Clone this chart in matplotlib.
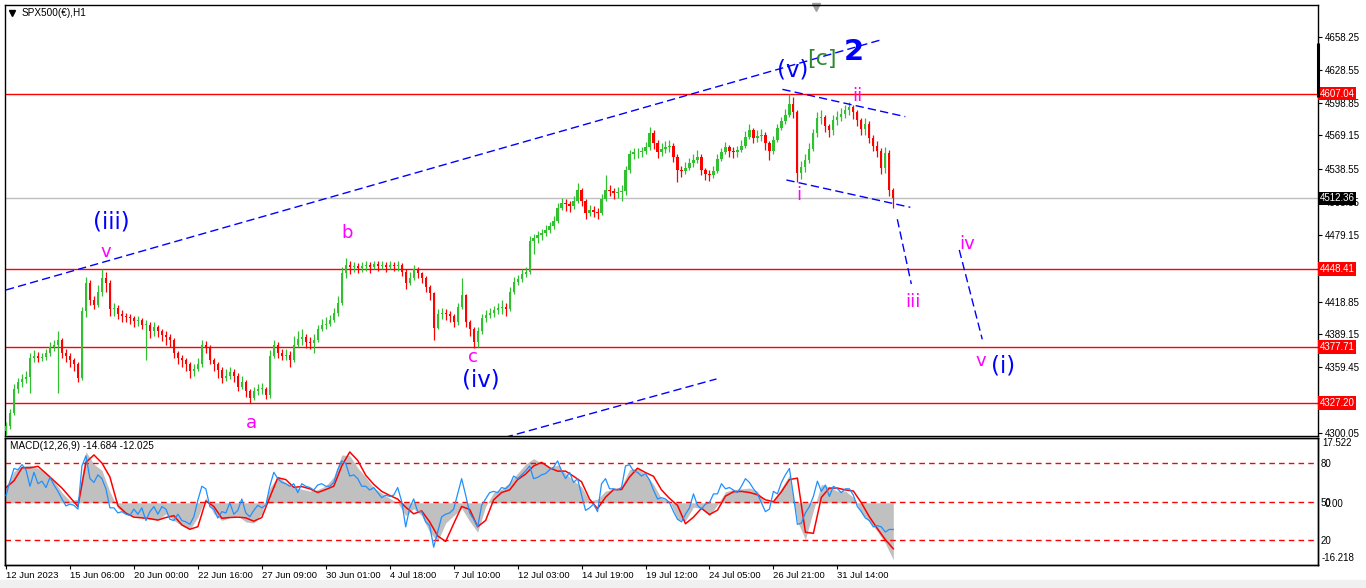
import numpy as np
import matplotlib.pyplot as plt
from matplotlib import transforms

plt.rcParams['font.family'] = ['Liberation Sans', 'DejaVu Sans']

# SPX500(€) H1 - una vela cada 4 horas
open0 = 4302.0
close = [4306, 4318, 4340, 4346, 4349, 4351, 4368, 4370, 4368, 4369,
         4372, 4378, 4380, 4384, 4372, 4370, 4366, 4362, 4350, 4410,
         4436, 4420, 4416, 4428, 4440, 4436, 4412, 4413, 4408, 4406,
         4405, 4404, 4401, 4402, 4398, 4398, 4392, 4396, 4392, 4389,
         4387, 4384, 4372, 4368, 4366, 4362, 4356, 4358, 4362, 4380,
         4378, 4366, 4362, 4357, 4350, 4352, 4355, 4352, 4342, 4346,
         4338, 4332, 4338, 4340, 4340, 4334, 4370, 4380, 4372, 4370,
         4371, 4366, 4380, 4385, 4387, 4382, 4381, 4384, 4394, 4398,
         4399, 4402, 4409, 4418, 4445, 4452, 4450, 4451, 4449, 4451,
         4452, 4450, 4453, 4451, 4452, 4450, 4452, 4451, 4452, 4446,
         4436, 4440, 4448, 4445, 4440, 4432, 4427, 4395, 4408, 4409,
         4408, 4406, 4400, 4414, 4425, 4400, 4394, 4382, 4392, 4404,
         4407, 4409, 4411, 4413, 4414, 4412, 4428, 4437, 4439, 4444,
         4446, 4474, 4476, 4479, 4481, 4484, 4487, 4492, 4504, 4508,
         4507, 4505, 4510, 4520, 4510, 4499, 4502, 4500, 4499, 4512,
         4520, 4519, 4517, 4518, 4519, 4538, 4552, 4554, 4554, 4555,
         4559, 4571, 4562, 4554, 4557, 4559, 4560, 4550, 4538, 4537,
         4540, 4544, 4547, 4550, 4538, 4534, 4533, 4537, 4548, 4554,
         4559, 4555, 4554, 4556, 4560, 4568, 4574, 4567, 4569, 4570,
         4562, 4555, 4565, 4576, 4582, 4588, 4598, 4590, 4535, 4541,
         4547, 4557, 4571, 4585, 4586, 4578, 4574, 4583, 4586, 4589,
         4592, 4595, 4590, 4583, 4575, 4580, 4567, 4560, 4555, 4540,
         4553, 4520, 4512.36]
high = [4310, 4322, 4344, 4350, 4353, 4356, 4372, 4375, 4373, 4372,
        4376, 4382, 4384, 4392, 4386, 4376, 4372, 4368, 4364, 4414,
        4441, 4438, 4424, 4434, 4448, 4446, 4438, 4418, 4416, 4411,
        4409, 4408, 4406, 4406, 4404, 4402, 4400, 4400, 4398, 4394,
        4392, 4390, 4386, 4374, 4371, 4368, 4364, 4362, 4368, 4384,
        4383, 4380, 4368, 4364, 4360, 4358, 4360, 4358, 4354, 4352,
        4348, 4340, 4342, 4344, 4345, 4342, 4375, 4384, 4382, 4376,
        4376, 4374, 4388, 4392, 4394, 4390, 4387, 4390, 4398, 4403,
        4405, 4407, 4413, 4424, 4450, 4458, 4456, 4455, 4454, 4455,
        4456, 4455, 4456, 4456, 4456, 4455, 4456, 4455, 4456, 4454,
        4448, 4446, 4452, 4450, 4446, 4442, 4434, 4428, 4412, 4413,
        4412, 4410, 4408, 4418, 4440, 4426, 4402, 4396, 4396, 4408,
        4411, 4413, 4415, 4418, 4420, 4418, 4432, 4441, 4443, 4448,
        4450, 4478, 4480, 4483, 4485, 4488, 4491, 4496, 4508, 4513,
        4512, 4510, 4514, 4526, 4522, 4512, 4506, 4505, 4504, 4516,
        4533, 4524, 4522, 4523, 4524, 4542, 4556, 4558, 4558, 4559,
        4563, 4577, 4574, 4565, 4562, 4564, 4565, 4562, 4552, 4542,
        4545, 4549, 4552, 4556, 4552, 4540, 4538, 4542, 4552, 4558,
        4563, 4561, 4559, 4560, 4565, 4573, 4580, 4576, 4574, 4575,
        4572, 4564, 4569, 4580, 4586, 4593, 4607, 4604, 4592, 4546,
        4552, 4562, 4575, 4590, 4592, 4588, 4580, 4588, 4591, 4594,
        4597, 4599, 4597, 4592, 4585, 4585, 4582, 4570, 4564, 4558,
        4559, 4556, 4522]
low = [4298, 4304, 4316, 4336, 4342, 4345, 4336, 4364, 4364, 4365,
       4366, 4370, 4374, 4336, 4368, 4364, 4360, 4356, 4346, 4348,
       4405, 4416, 4412, 4414, 4424, 4428, 4406, 4406, 4403, 4400,
       4400, 4399, 4396, 4397, 4394, 4366, 4386, 4388, 4387, 4383,
       4380, 4378, 4368, 4362, 4360, 4356, 4350, 4352, 4356, 4360,
       4372, 4362, 4356, 4350, 4345, 4347, 4349, 4346, 4338, 4340,
       4333, 4327, 4330, 4334, 4335, 4331, 4332, 4368, 4368, 4366,
       4366, 4360, 4364, 4378, 4380, 4377, 4376, 4372, 4382, 4392,
       4394, 4397, 4400, 4406, 4416, 4440, 4444, 4446, 4445, 4446,
       4447, 4445, 4448, 4447, 4448, 4446, 4448, 4447, 4447, 4442,
       4430, 4434, 4438, 4440, 4436, 4428, 4420, 4384, 4394, 4403,
       4402, 4400, 4396, 4398, 4412, 4396, 4388, 4377, 4378, 4390,
       4400, 4404, 4405, 4408, 4408, 4406, 4410, 4426, 4434, 4437,
       4441, 4444, 4462, 4472, 4475, 4478, 4481, 4485, 4490, 4502,
       4501, 4500, 4503, 4508, 4505, 4494, 4496, 4495, 4494, 4497,
       4510, 4514, 4512, 4513, 4510, 4515, 4535, 4548, 4549, 4550,
       4552, 4556, 4557, 4549, 4551, 4553, 4554, 4545, 4527, 4532,
       4534, 4538, 4541, 4544, 4533, 4529, 4528, 4531, 4535, 4546,
       4552, 4550, 4549, 4550, 4554, 4558, 4566, 4562, 4563, 4564,
       4556, 4547, 4552, 4563, 4574, 4580, 4586, 4585, 4527, 4530,
       4536, 4544, 4555, 4568, 4580, 4572, 4568, 4570, 4579, 4582,
       4585, 4588, 4584, 4578, 4570, 4570, 4562, 4555, 4550, 4534,
       4535, 4514, 4504]

# MACD (cada 8 horas) y oscilador 0-100 (cada 4 horas)
macd_main = [4.5, 8.5, 10, 10.2, 9.4, 8.2, 5.9, 2.8, 0.5, 1,
             13.9, 10.5, 8.8, 3, -1.5, -3, -3.5, -4, -4.5, -4.7,
             -3, -4.8, -6.2, -7.3, -3.9, 1.4, -3, -4.8, -4, -3.5,
             -5.2, -5.5, -3, 4, 7.2, 5.5, 4.3, 3.7, 3.2, 3.6,
             4.6, 7, 13, 12.8, 9.5, 7, 4.1, 2.6, 1.2, 0,
             -3.5, -1.6, -3.5, -8, -10.5, -5.5, -3.5, -1.5, -5, -8,
             -1, 2.8, 3.7, 5.5, 8, 10.5, 12, 10.8, 9.5, 10.3,
             8, 6, 4.3, 0.5, 1, 3.2, 3.6, 4.5, 9, 9.4,
             7.7, 5, 1.2, 0.6, -4.5, -4.8, -1.2, -1.5, -3.5, -0.5,
             3, 3.6, 3.8, 4, 3.2, 0, 0.5, 4, 7.5, -5,
             -10, -2.1, 5, 4.3, 3.2, 3.2, 1.5, -2.8, -5, -7.8,
             -11, -15.5]
macd_signal = [4.1, 6, 9.5, 9.5, 9.9, 8, 6, 4, 1.5, -1,
               11, 13, 10.8, 7, -0.8, -2.8, -3.9, -4.1, -4.3, -4.7,
               -4, -3.5, -6, -7.2, -6.5, 0.5, -1, -4.2, -4, -3.9,
               -4.1, -5, -4, 1.5, 6.8, 6.3, 4.2, 4.4, 3.8, 2.8,
               3.6, 4.5, 10, 13.8, 11.5, 7.5, 5, 3.1, 2, 1,
               -1.2, -3, -2.2, -5.2, -9, -10.5, -5.7, -1, -1.8, -6.5,
               -4.8, 0.8, 2.8, 3.5, 6.3, 7.8, 10, 11, 9.5, 8.6,
               8.6, 7.2, 5.7, 1, -1.6, 1.5, 3.6, 3.6, 7, 9.4,
               8.2, 7.2, 3.5, 1.2, -0.7, -5.7, -3.9, -1.5, -3.2, -2,
               1.8, 3, 3.1, 2.8, 2.2, 0.8, 0.3, 3, 6.3, 6.7,
               -8, -8.3, 1.5, 4, 4, 3.5, 3.2, 0, -3.8, -7,
               -10, -12.5]
osc = [54.6, 66, 76, 75, 79, 75, 62, 73, 64, 66,
       61, 69, 63, 58, 52, 46.5, 48, 47, 44, 78,
       86, 68, 65, 71, 68, 60, 45, 45, 41, 42,
       40, 39, 44, 40, 45, 35, 42, 46, 40, 46,
       44, 36, 35, 40, 35, 34, 32, 38, 51, 62,
       60, 46, 44, 37, 42, 41, 49, 40, 43, 52,
       41, 38, 43, 47, 45, 47, 62, 73, 68, 65,
       64, 62, 64, 57, 64, 62, 61, 59, 63, 64,
       62, 62, 65, 75, 82, 80, 70, 71, 68, 62,
       62, 59, 61, 57, 53, 55, 54, 55, 61, 50,
       30, 45, 52, 42, 42, 34, 31, 14, 26, 38,
       40, 41, 44, 56,
       68, 55, 41, 36, 30, 47, 52, 57, 58, 57,
       61, 60, 63, 70, 68, 71, 74, 78, 68, 69,
       71, 72, 75, 77, 82, 74, 68, 73, 65, 68,
       55, 43, 45, 48, 42, 64, 68, 60, 60, 59,
       61, 78, 79, 74, 73, 70, 72, 67, 59, 52,
       53, 52, 49, 42, 36, 34, 40, 45, 56, 47,
       44, 48, 49, 56, 56, 64, 60, 61, 59, 57,
       62, 68, 65, 60, 56, 49, 42, 44, 58, 56,
       65, 71, 76, 55, 32, 33, 41, 46, 54, 66,
       58, 63, 54, 62, 60, 57, 60, 60, 55, 46,
       42, 37, 35, 30, 31, 30, 26, 28, 28]
osc_levels = [80, 50, 20]

date_labels = ["12 Jun 2023", "15 Jun 06:00", "20 Jun 00:00", "22 Jun 16:00",
               "27 Jun 09:00", "30 Jun 01:00", "4 Jul 18:00", "7 Jul 10:00",
               "12 Jul 03:00", "14 Jul 19:00", "19 Jul 12:00", "24 Jul 05:00",
               "26 Jul 21:00", "31 Jul 14:00"]
price_ticks = [4658.25, 4628.55, 4598.85, 4569.15, 4538.55, 4508.85,
               4479.15, 4418.85, 4389.15, 4359.45, 4300.05]
red_levels = [4607.04, 4448.41, 4377.71, 4327.20]
last_price = 4512.36

# líneas de tendencia (hora, precio)
trend_lines = [[(0, 4429.4), (875, 4655.5)],
               [(475, 4290.0), (711, 4348.9)],
               [(777, 4610.9), (900, 4586.2)],
               [(781, 4528.9), (905, 4504.2)],
               [(892, 4493.4), (906, 4434.8)],
               [(954, 4465.6), (977, 4384.8)]]

# etiquetas de ondas (texto, hora, precio, color, tamaño)
BLUE, MAG, GRN = '#0000ff', '#ff00ff', '#2a8a2a'
wave_labels = [("(iii)", 105.5, 4484.6, BLUE, 16.5),
               ("v", 100, 4459.3, MAG, 13),
               ("b", 341.7, 4476.5, MAG, 13),
               ("a", 245.3, 4304.6, MAG, 13),
               ("c", 467, 4364.6, MAG, 13),
               ("(iv)", 475.5, 4342.1, BLUE, 16.5),
               ("i", 793.3, 4510.8, MAG, 13),
               ("ii", 852, 4600.6, MAG, 13),
               ("(v)", 787, 4622.1, BLUE, 16.5),
               ("[c]", 816, 4632.9, GRN, 16),
               ("iii", 908, 4414.3, MAG, 13),
               ("iv", 962, 4466.5, MAG, 13),
               ("v", 975.5, 4360.7, MAG, 13),
               ("(i)", 998, 4354.3, BLUE, 16.5)]

W, H = 1366, 588
fig = plt.figure(figsize=(W / 100, H / 100), dpi=100, facecolor='white')
L, R = 5 / W, 1318 / W
ax = fig.add_axes([L, 1 - 436 / H, R - L, (436 - 5) / H])
axm = fig.add_axes([L, 1 - 565 / H, R - L, (565 - 438) / H], sharex=ax)

# velas
c = np.array(close, dtype=float)
o = np.concatenate([[open0], c[:-1]])
xb = np.arange(len(c)) * 4
cols = np.where(c >= o, '#30c030', '#ff0000')
ax.vlines(xb, low, high, colors=cols, lw=0.9, zorder=3)
ax.bar(xb, np.maximum(np.abs(c - o), 0.6), bottom=np.minimum(o, c), width=2.2,
       color=cols, lw=0, zorder=3)

for lv in red_levels:
    ax.axhline(lv, color='#ff0000', lw=1, zorder=2)
ax.axhline(last_price, color='#c0c0c0', lw=1, zorder=2)

for (x0, y0), (x1, y1) in trend_lines:
    ax.plot([x0, x1], [y0, y1], color='#0000ff', lw=1, ls=(0, (6, 3)), zorder=4)

for txt, xx, yy, col, fs in wave_labels:
    ax.text(xx, yy, txt, color=col, fontsize=fs, ha='center', va='baseline',
            family='DejaVu Sans', zorder=5)
ax.text(848.3, 4637.4, "2", color=BLUE, fontsize=21, fontweight='bold',
        ha='center', va='baseline', family='DejaVu Sans', zorder=5)

ax.set_xlim(-1, 1313)
ax.set_ylim(4297.3, 4687.2)
ax.yaxis.tick_right()
ax.set_yticks(price_ticks, [f"{p:.2f}" for p in price_ticks])
ax.tick_params(axis='y', direction='out', length=3, width=0.8, pad=2, labelsize=7)
ax.tick_params(axis='x', bottom=False, labelbottom=False)

bt = transforms.blended_transform_factory(ax.transAxes, ax.transData)
for lv in red_levels:
    ax.text(1.001, lv, f"{lv:.2f}", transform=bt, color='white', fontsize=7,
            va='center', ha='left', clip_on=False, zorder=6,
            bbox=dict(boxstyle='square,pad=0.18', fc='#ff0000', ec='none'))
ax.text(1.001, last_price, f"{last_price:.2f}", transform=bt, color='white',
        fontsize=7, va='center', ha='left', clip_on=False, zorder=6,
        bbox=dict(boxstyle='square,pad=0.18', fc='black', ec='none'))
ax.plot([1, 1], [4652.8, 4604], transform=bt, color='black', lw=2.2,
        clip_on=False, zorder=6, solid_capstyle='butt')

ax.plot([0.0053], [0.981], marker='v', ms=4, color='black', transform=ax.transAxes,
        clip_on=False)
ax.text(0.0128, 0.981, "SPX500(€),H1", transform=ax.transAxes, fontsize=7.2,
        va='center')
ax.plot([0.618], [0.995], marker='v', ms=6, color='#a0a0a0', transform=ax.transAxes,
        clip_on=False)

# panel MACD
xm = np.arange(len(macd_main)) * 8
axm.fill_between(xm, 0, macd_main, color='#c0c0c0', lw=0, zorder=2)
axm.plot(xm, macd_signal, color='#ff0000', lw=1.1, zorder=3)
axm.set_ylim(-16.9, 17.6)

axo = axm.twinx()
xo = np.arange(len(osc)) * 4
axo.plot(xo, osc, color='#1e90ff', lw=0.9, zorder=3)
for lv in osc_levels:
    axo.axhline(lv, color='#ff0000', lw=1, ls=(0, (4, 3)), zorder=2)
axo.set_ylim(0, 100)
axo.set_yticks(osc_levels, [str(v) for v in osc_levels])
axo.tick_params(axis='y', length=0, pad=2, labelsize=7)

# twinx pasa los ticks del MACD a la izquierda: devolverlos a la derecha
axm.yaxis.tick_right()
axm.set_yticks([0], ["0.00"])
axm.tick_params(axis='y', length=0, pad=5, labelsize=7)

axm.text(1.003, 0.96, "17.522", transform=axm.transAxes, fontsize=7,
         va='center', ha='left')
axm.text(1.003, 0.055, "-16.218", transform=axm.transAxes, fontsize=7,
         va='center', ha='left')
axm.text(0.004, 0.935, "MACD(12,26,9) -14.684 -12.025", transform=axm.transAxes,
         fontsize=7.2, va='center')

axm.set_xticks(np.arange(len(date_labels)) * 64, date_labels)
axm.tick_params(axis='x', direction='out', length=3, width=0.8, pad=1.5, labelsize=6.8)
for lab in axm.get_xticklabels():
    lab.set_horizontalalignment('left')

for a in (ax, axm, axo):
    for s in a.spines.values():
        s.set_color('black')
        s.set_linewidth(1)

fig.patches.append(plt.Rectangle((0, 0), 1, 8 / H, transform=fig.transFigure,
                                 color='#f0f0f0', zorder=0))

fig.savefig("out.png", dpi=100, facecolor='white')
